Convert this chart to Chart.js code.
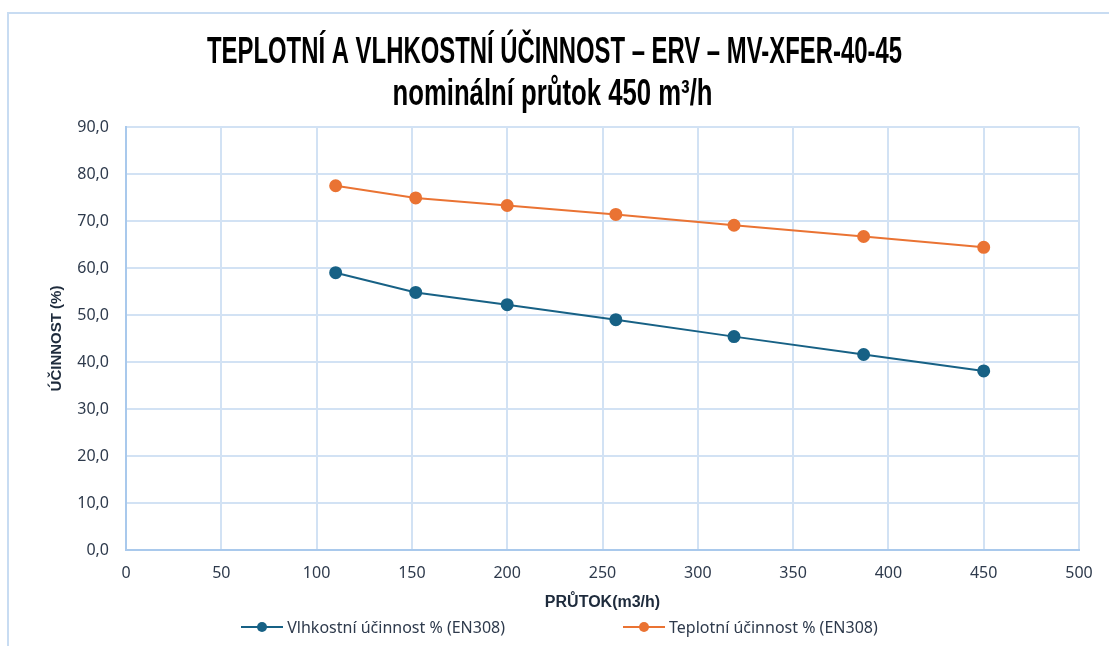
<!DOCTYPE html>
<html>
<head>
<meta charset="utf-8">
<script src="https://cdn.jsdelivr.net/npm/chart.js@4.4.1/dist/chart.umd.min.js"></script>
<style>
  html, body { margin: 0; padding: 0; background: #fff; }
  #wrap { position: relative; width: 1109px; height: 646px; }
  #effChart { position: absolute; left: 0; top: 0; }
  #legend {
    position: absolute; left: 0; top: 616px; width: 1109px; box-sizing: border-box;
    padding-left: 10px; display: flex; justify-content: center; gap: 118px;
    font-family: 'Noto Sans', 'Open Sans', sans-serif; font-size: 16px; color: #2e3a4c;
  }
  #legend .item { display: flex; align-items: center; white-space: nowrap; line-height: 22px; }
  #legend .sym { position: relative; width: 42px; height: 12px; margin-right: 4px; }
  #legend .sym .ln { position: absolute; left: 0; right: 0; top: 5px; height: 2px; }
  #legend .sym .dot { position: absolute; left: 16px; top: 1px; width: 10px; height: 10px; border-radius: 50%; }
</style>
</head>
<body>
<div id="wrap">
  <canvas id="effChart" width="1109" height="646"></canvas>
  <div id="legend"></div>
</div>
<script>
    // flow rates (m3/h) and efficiencies (%)
    const flowRates = [110, 152, 200, 257, 319, 387, 450];
    const humidityEff = [59.0, 54.8, 52.2, 49.0, 45.4, 41.6, 38.1];
    const tempEff = [77.5, 74.9, 73.3, 71.4, 69.1, 66.7, 64.4];
    const seriesNames = ['Vlhkostní účinnost % (EN308)', 'Teplotní účinnost % (EN308)'];
    const titleLines = ['TEPLOTNÍ A VLHKOSTNÍ ÚČINNOST – ERV – MV-XFER-40-45', 'nominální průtok 450 m³/h'];

    const BLUE = '#176185';
    const ORANGE = '#EA7333';
    const TEXT = '#2e3a4c';
    const plain = "'Noto Sans', 'Open Sans', sans-serif";
    const bold = "'Liberation Sans', Arial, sans-serif";

    function toPoints(values) {
        return flowRates.map((x, i) => ({ x: x, y: values[i] }));
    }

    // outer frame of the chart (only top and left edge are visible)
    const framePlugin = {
        id: 'frame',
        beforeDraw(chart) {
            const ctx = chart.ctx;
            ctx.save();
            ctx.strokeStyle = '#c8dcf2';
            ctx.lineWidth = 2;
            ctx.beginPath();
            ctx.moveTo(8, chart.height);
            ctx.lineTo(8, 13);
            ctx.lineTo(chart.width, 13);
            ctx.stroke();
            ctx.restore();
        }
    };

    // the original title uses a bold condensed face, squeeze a bold one horizontally
    const condensedTitle = {
        id: 'condensedTitle',
        afterDraw(chart) {
            const ctx = chart.ctx;
            ctx.save();
            ctx.font = 'bold 36px ' + bold;
            ctx.fillStyle = '#000';
            ctx.textAlign = 'center';
            ctx.textBaseline = 'alphabetic';
            const widths = [695, 320];
            const bases = [63, 105];
            const cx = chart.width / 2;
            titleLines.forEach((line, i) => {
                const sx = widths[i] / ctx.measureText(line).width;
                ctx.save();
                ctx.translate(cx - (i === 1 ? 2 : 0), bases[i]);
                ctx.scale(sx, 1);
                ctx.fillText(line, 0, 0);
                ctx.restore();
            });
            ctx.restore();
        }
    };

    // legend as html below the plot
    const htmlLegend = {
        id: 'htmlLegend',
        afterUpdate(chart) {
            const box = document.getElementById('legend');
            box.innerHTML = '';
            chart.data.datasets.forEach(ds => {
                const item = document.createElement('div');
                item.className = 'item';
                item.innerHTML = '<span class="sym"><span class="ln" style="background:' + ds.borderColor +
                    '"></span><span class="dot" style="background:' + ds.borderColor + '"></span></span>';
                const label = document.createElement('span');
                label.textContent = ds.label;
                item.appendChild(label);
                box.appendChild(item);
            });
        }
    };

    const ctx = document.getElementById('effChart').getContext('2d');
    new Chart(ctx, {
        type: 'line',
        data: {
            datasets: [{
                label: seriesNames[0],
                data: toPoints(humidityEff),
                borderColor: BLUE,
                backgroundColor: BLUE,
                borderWidth: 2,
                pointRadius: 5.5,
                pointHoverRadius: 5.5,
                tension: 0
            }, {
                label: seriesNames[1],
                data: toPoints(tempEff),
                borderColor: ORANGE,
                backgroundColor: ORANGE,
                borderWidth: 2,
                pointRadius: 5.5,
                pointHoverRadius: 5.5,
                tension: 0
            }]
        },
        options: {
            responsive: false,
            animation: false,
            devicePixelRatio: 1,
            layout: { padding: { left: 10, right: 30, top: 127, bottom: 34 } },
            plugins: {
                title: { display: false },
                legend: { display: false },
                tooltip: { enabled: false }
            },
            scales: {
                x: {
                    type: 'linear',
                    min: 0,
                    max: 500,
                    ticks: { stepSize: 50, color: TEXT, padding: 14, font: { family: plain, size: 16 } },
                    grid: { color: '#d2e2f4', lineWidth: 2, drawTicks: false },
                    border: { color: '#a9c9ec', width: 2 },
                    title: {
                        display: true,
                        text: 'PRŮTOK(m3/h)',
                        color: '#1e2b3c',
                        font: { family: bold, size: 16, weight: 'bold' },
                        padding: { top: 10, bottom: 0 }
                    },
                    afterFit(scale) { scale.height = 62; }
                },
                y: {
                    min: 0,
                    max: 90,
                    ticks: {
                        stepSize: 10,
                        color: TEXT,
                        padding: 17,
                        font: { family: plain, size: 16 },
                        callback: v => v.toFixed(1).replace('.', ',')
                    },
                    grid: { color: '#d2e2f4', lineWidth: 2, drawTicks: false },
                    border: { color: '#a9c9ec', width: 2 },
                    title: {
                        display: true,
                        text: 'ÚČINNOST (%)',
                        color: '#1e2b3c',
                        font: { family: bold, size: 15, weight: 'bold' },
                        padding: { top: 38, bottom: 0 }
                    },
                    afterFit(scale) { scale.width = 116; }
                }
            }
        },
        plugins: [framePlugin, condensedTitle, htmlLegend]
    });
</script>
</body>
</html>
